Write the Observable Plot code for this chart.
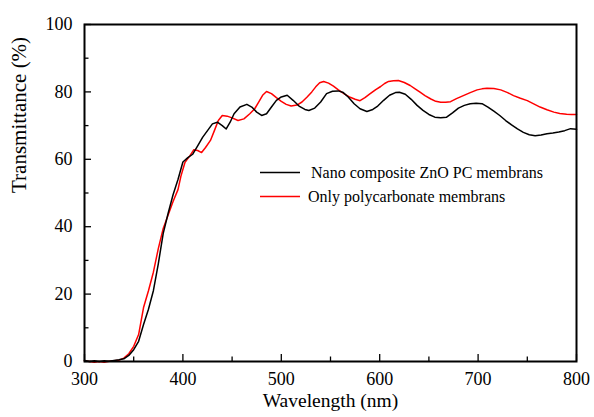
<!DOCTYPE html>
<html><head><meta charset="utf-8">
<script src="https://cdn.jsdelivr.net/npm/d3@7"></script>
<script src="https://cdn.jsdelivr.net/npm/@observablehq/plot@0.6"></script>
<style>
body{margin:0;background:#fff;}
#wrap{position:relative;width:594px;height:417px;font-family:"Liberation Serif","Times New Roman",serif;}
#wrap svg, #wrap svg text{font-family:"Liberation Serif","Times New Roman",serif !important;}
#legend{position:absolute;left:0;top:0;}
</style></head><body><div id="wrap"></div>
<script>
const seriesNames = ["Nano composite ZnO PC membrans", "Only polycarbonate membrans"];
const seriesColors = ["#000000", "#ff0000"];
const xTitle = "Wavelength (nm)";
const yTitle = "Transmittance (%)";
const xTicks = [300, 400, 500, 600, 700, 800];
const xMinor = [350, 450, 550, 650, 750];
const yTicks = [0, 20, 40, 60, 80, 100];
const yMinor = [10, 30, 50, 70, 90];

const nanoWl = [300,305,310,315,320,325,330,335,340,345,350,355,360,365,370,375,380,385,390,395,400,405,410,415,420,425,430,435,440,444,448,452,458,465,470,475,480,485,490,495,500,506,512,518,524,528,534,540,546,552,558,563,568,574,580,587,593,598,604,610,616,620,626,632,638,644,650,656,662,668,674,680,686,692,698,704,710,716,722,728,734,740,746,752,758,764,770,776,782,788,794,800];
const nanoT = [0.3,0.0,0.2,0.0,0.2,0.1,0.3,0.5,0.8,1.8,3.5,6.0,11.0,15.5,21,29,38,44,49.5,54,59.2,60.5,61.5,64,66.5,68.5,70.5,71,70,69,71,73.5,75.5,76.3,75.5,74,73,73.5,75.5,77.5,78.5,79,77.5,75.8,74.8,74.5,75.2,77,79.5,80.2,80.3,79.8,78.5,76.5,75,74.2,74.8,75.8,77.5,79,79.8,79.9,79.3,77.8,76,74.5,73.3,72.5,72.3,72.5,73.8,75.2,76,76.5,76.6,76.5,75.5,74.3,73,71.5,70.2,69,68,67.3,67,67.2,67.6,67.8,68.1,68.5,69.1,68.9];

const pcWl = [300,305,310,315,320,325,330,335,340,345,350,355,360,365,370,375,380,385,390,395,398,402,407,411,415,419,423,428,432,436,440,445,450,456,462,468,473,477,481,485,490,495,500,505,510,516,521,526,531,535,539,543,548,553,558,564,570,575,580,585,590,596,601,605,609,614,619,625,631,636,641,646,652,657,662,667,672,678,685,692,699,704,709,716,723,730,736,743,750,756,763,770,777,783,790,795,800];
const pcT = [0.2,0.0,-0.2,0.0,-0.2,0.1,0.2,0.4,1.0,2.3,4.5,8,16,21,26.5,33.5,39.5,43.5,47.5,51,55,59,61,62.8,62.6,62,63.5,65.6,68.5,71.5,73,72.8,72.3,71.5,72,73.5,75,77,79,80.1,79.5,78.3,77.2,76.3,75.8,76.1,77,78.4,80,81.5,82.7,83.1,82.6,81.7,80.6,79.4,78.4,77.8,77.4,78.3,79.4,80.7,81.6,82.5,83.1,83.3,83.4,82.8,81.9,80.9,79.9,78.9,77.9,77.2,76.9,76.9,77.1,78,78.9,79.8,80.6,80.9,81.1,81,80.6,79.8,78.9,78.1,77.4,76.5,75.5,74.7,74,73.6,73.4,73.3,73.3];

const nano = nanoWl.map((w, i) => ({w, t: nanoT[i]}));
const pc = pcWl.map((w, i) => ({w, t: pcT[i]}));

const font = {fontFamily: "Liberation Serif", fill: "#000"};

const chart = Plot.plot({
  width: 594, height: 417,
  marginLeft: 84, marginRight: 18, marginTop: 24, marginBottom: 56,
  style: {fontFamily: "'Liberation Serif', serif", background: "#fff", color: "#000"},
  x: {domain: [300, 800]},
  y: {domain: [0, 100]},
  marks: [
    Plot.line(pc, {x: "w", y: "t", stroke: seriesColors[1], strokeWidth: 1.5}),
    Plot.line(nano, {x: "w", y: "t", stroke: seriesColors[0], strokeWidth: 1.5}),
    Plot.axisX(xTicks, {tickSize: -7, text: null, label: null, strokeWidth: 1.3}),
    Plot.axisX(xMinor, {tickSize: -4.5, text: null, label: null, strokeWidth: 1.3}),
    Plot.axisY(yTicks, {tickSize: -7, text: null, label: null, strokeWidth: 1.3}),
    Plot.axisY(yMinor, {tickSize: -4.5, text: null, label: null, strokeWidth: 1.3}),
    Plot.axisX(xTicks, {tickSize: 0, tickPadding: 11, label: null, fontSize: 18, ...font}),
    Plot.axisY(yTicks, {tickSize: 0, tickPadding: 12, label: null, fontSize: 18, ...font}),
    Plot.text([xTitle], {frameAnchor: "bottom", dy: 45, fontSize: 19.5, ...font}),
    Plot.text([yTitle], {frameAnchor: "left", dx: -65, rotate: -90, fontSize: 21, ...font}),
    Plot.frame({stroke: "#000", strokeWidth: 2})
  ]
});

const wrap = document.getElementById("wrap");
wrap.appendChild(chart);

// legend overlay
const ns = "http://www.w3.org/2000/svg";
const leg = document.createElementNS(ns, "svg");
leg.setAttribute("id", "legend");
leg.setAttribute("width", 594);
leg.setAttribute("height", 417);
const legY = [172.5, 196.5];
seriesNames.forEach((name, i) => {
  const ln = document.createElementNS(ns, "line");
  ln.setAttribute("x1", 260); ln.setAttribute("x2", 300);
  ln.setAttribute("y1", legY[i]); ln.setAttribute("y2", legY[i]);
  ln.setAttribute("stroke", seriesColors[i]);
  ln.setAttribute("stroke-width", 1.6);
  leg.appendChild(ln);
  const tx = document.createElementNS(ns, "text");
  tx.setAttribute("x", i === 0 ? 311 : 308);
  tx.setAttribute("y", legY[i]);
  tx.setAttribute("dy", "0.33em");
  tx.setAttribute("font-size", 16);
  tx.setAttribute("font-family", "Liberation Serif");
  tx.textContent = name;
  leg.appendChild(tx);
});
wrap.appendChild(leg);
</script></body></html>
